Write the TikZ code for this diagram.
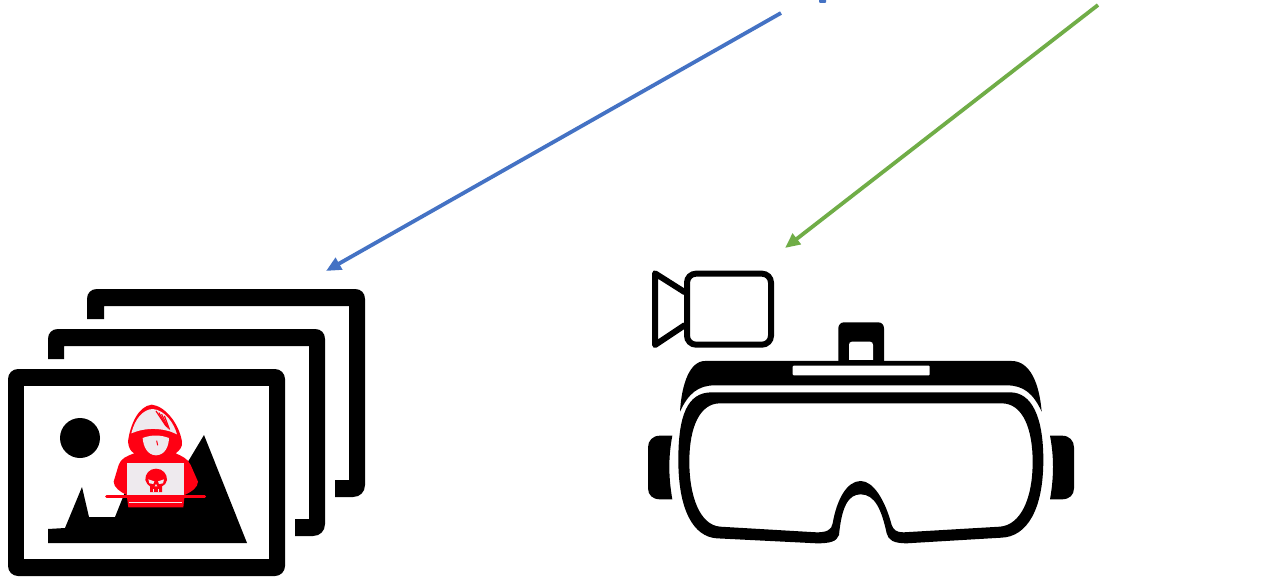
\documentclass[tikz,border=0pt]{standalone}
\usetikzlibrary{arrows.meta}
\definecolor{blueline}{HTML}{4472C4}
\definecolor{greenline}{HTML}{70AD47}
\definecolor{hackred}{HTML}{FF0013}
\definecolor{hackgray}{HTML}{EEEAEE}
\tikzset{
  link/.style={line width=3.8pt,-{Triangle[length=15pt,width=13pt]}},
  ink/.style={fill=black,draw=none},
  hole/.style={fill=white,draw=none},
  red fill/.style={fill=hackred,draw=none},
  gray fill/.style={fill=hackgray,draw=none},
  zoomed/.style={x=0.33333pt,y=-0.33333pt}
}
\newcommand{\backframe}[8]{%
  % left, top, right, bottom, inner left, inner top, inner right, inner bottom
  \fill[ink] (#5,#6+13) -- (#1,#6+13) -- (#1,#2+10)
    .. controls (#1,#2+4) and (#1+4,#2) .. (#1+10,#2)
    -- (#3-10,#2) .. controls (#3-4,#2) and (#3,#2+4) .. (#3,#2+10)
    -- (#3,#4-12) .. controls (#3,#4-5) and (#3-5,#4) .. (#3-12,#4)
    -- (#7-14,#4) -- (#7-14,#8) -- (#7,#8) -- (#7,#6) -- (#5,#6) -- cycle;
}
\begin{document}
\begin{tikzpicture}[x=1pt,y=-1pt]
\useasboundingbox (0,0) rectangle (1276,577);
\fill[white] (0,0) rectangle (1276,577);

% stacked picture frames
\backframe{87}{289}{365}{497}{104}{306}{349}{480}
\backframe{48}{329}{325}{536}{64}{346}{309}{519}
\fill[ink,rounded corners=10pt] (8,369) rectangle (285,576);
\fill[hole] (24,386) rectangle (269,559);
\fill[ink] (80,438) circle[radius=20pt];
\fill[ink] (48,529) -- (65,528) -- (82,487) -- (89,517) -- (115,517) -- (125,492) -- (180,475) -- (204,435) -- (247,543) -- (48,543) -- cycle;

% hacker
\begin{scope}[shift={(100,400)},zoomed]
  \fill[red fill] (155,14) .. controls (115,18) and (90,75) .. (84,125)
     .. controls (86,145) and (93,155) .. (103,160)
     .. controls (80,168) and (62,176) .. (56,195)
     -- (41,245) .. controls (41,262) and (60,275) .. (80,285)
     -- (85,322) -- (250,322) -- (254,285)
     .. controls (275,275) and (294,262) .. (294,245)
     -- (272,195) .. controls (264,176) and (245,168) .. (227,160)
     .. controls (240,150) and (248,140) .. (246,125)
     .. controls (237,70) and (195,18) .. (155,14) -- cycle;
  \fill[gray fill] (94,100) .. controls (105,55) and (130,28) .. (158,27)
     .. controls (195,30) and (222,70) .. (231,103)
     .. controls (190,82) and (135,82) .. (94,100) -- cycle;
  \foreach \d in {0,14,28,42}
    \draw[hackred,line width=1.2pt] (168+\d*0.6,33+\d*0.35) -- (198+\d*0.25,78+\d*0.25);
  \fill[gray fill] (128,114) .. controls (155,104) and (180,104) .. (207,114)
     .. controls (206,140) and (195,165) .. (168,166)
     .. controls (142,165) and (130,140) .. (128,114) -- cycle;
  \draw[hackred,line width=1pt] (170,122) -- (173,136);
  \fill[gray fill] (82,188) rectangle (252,284);
  % skull
  \fill[red fill] (168,206) .. controls (148,206) and (135,222) .. (136,240)
     .. controls (137,250) and (146,256) .. (150,259)
     -- (150,276) -- (186,276) -- (186,259)
     .. controls (192,256) and (201,250) .. (201,240)
     .. controls (202,222) and (188,206) .. (168,206) -- cycle;
  \fill[gray fill] (145,238) -- (163,244) -- (160,252) -- (148,250) -- cycle;
  \fill[gray fill] (192,238) -- (174,244) -- (177,252) -- (189,250) -- cycle;
  \fill[gray fill] (168,252) -- (172,259) -- (164,259) -- cycle;
  \fill[gray fill] (160,266) rectangle (163,276);
  \fill[gray fill] (173,266) rectangle (176,276);
  % desk
  \draw[hackred,line width=3pt,line cap=round] (20,288) -- (314,288);
  \fill[gray fill] (88,305) rectangle (246,310);
\end{scope}

% camera
\begin{scope}[shift={(640,260)},zoomed]
  \draw[line width=6pt,rounded corners=9pt] (141,41) rectangle (393,254);
  \draw[line width=6pt,line join=round] (135,97) -- (45,40) -- (45,255) -- (135,195);

  % headset strap
  \fill[ink] (595,305) -- (595,205) .. controls (595,195) and (602,187) .. (612,187)
     -- (715,187) .. controls (725,187) and (732,195) .. (732,205) -- (732,305) -- cycle;
  \fill[hole] (627,300) -- (627,255) .. controls (627,249) and (630,245) .. (636,245)
     -- (690,245) .. controls (696,245) and (699,249) .. (699,255) -- (699,300) -- cycle;

  % top band
  \fill[ink] (120,455) .. controls (125,370) and (150,303) .. (195,303)
     -- (1115,303) .. controls (1170,303) and (1198,370) .. (1205,455)
     .. controls (1180,400) and (1150,376) .. (1100,376)
     -- (225,376) .. controls (175,376) and (145,400) .. (120,455) -- cycle;
  \fill[hole,rounded corners=1pt] (458,317) rectangle (869,346);

  % goggle
  \fill[ink,even odd rule]
     (215,397) -- (1110,397) .. controls (1175,397) and (1210,470) .. (1210,600)
     .. controls (1210,750) and (1160,830) .. (1085,833)
     -- (800,850) .. controls (760,850) and (745,840) .. (740,820)
     .. controls (725,750) and (705,703) .. (662,703)
     .. controls (625,703) and (605,740) .. (597,825)
     .. controls (590,845) and (570,850) .. (530,850)
     -- (230,835) .. controls (160,830) and (115,750) .. (115,600)
     .. controls (115,470) and (140,397) .. (215,397) -- cycle
     (240,430) -- (1085,430) .. controls (1150,430) and (1178,510) .. (1178,605)
     .. controls (1178,720) and (1140,795) .. (1080,800)
     -- (790,817) .. controls (770,817) and (760,810) .. (755,795)
     .. controls (735,720) and (700,663) .. (662,663)
     .. controls (620,663) and (590,720) .. (578,790)
     .. controls (575,810) and (560,817) .. (530,817)
     -- (240,800) .. controls (180,795) and (148,710) .. (148,605)
     .. controls (148,500) and (180,430) .. (240,430) -- cycle;

  % side pads
  \fill[ink] (97,527) -- (60,527) .. controls (38,527) and (24,542) .. (24,562)
     -- (24,685) .. controls (24,705) and (38,718) .. (60,718)
     -- (97,718) .. controls (85,650) and (85,590) .. (97,527) -- cycle;
  \fill[ink] (1230,527) -- (1266,527) .. controls (1288,527) and (1302,542) .. (1302,562)
     -- (1302,685) .. controls (1302,705) and (1288,718) .. (1266,718)
     -- (1230,718) .. controls (1242,650) and (1242,590) .. (1230,527) -- cycle;
\end{scope}

% connectors
\coordinate (blue start) at (781,13);
\coordinate (frames corner) at (326,271);
\coordinate (green start) at (1098,5);
\coordinate (camera top) at (785,248);
\draw[link,blueline] (blue start) -- (frames corner);
\draw[link,greenline] (green start) -- (camera top);

% cropped remnant of the label above the picture
\fill[blueline,rounded corners=1pt] (819,-2) rectangle (826,3);
\end{tikzpicture}
\end{document}
